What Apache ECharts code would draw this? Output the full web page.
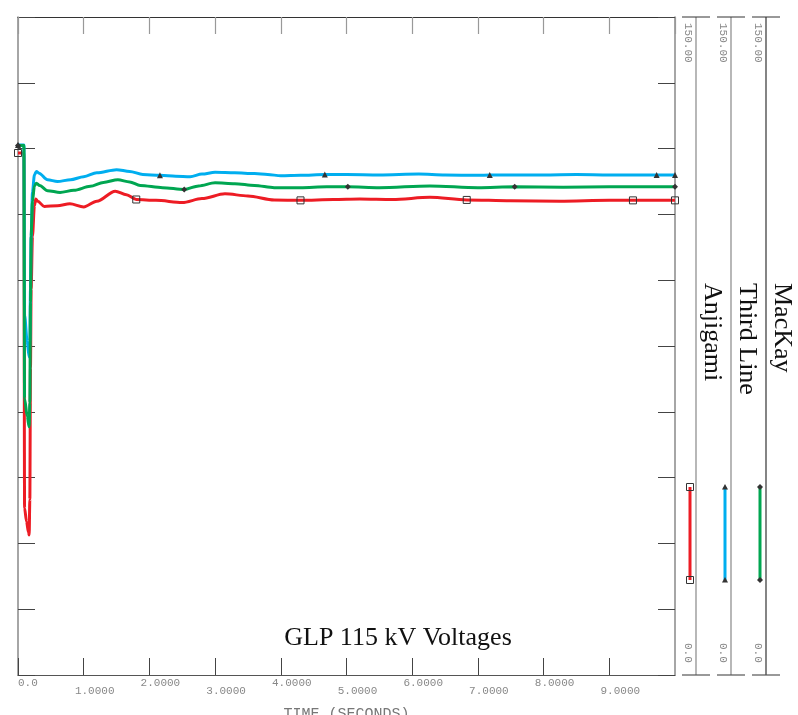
<!DOCTYPE html>
<html>
<head>
<meta charset="utf-8">
<script src="https://cdn.jsdelivr.net/npm/echarts@6/dist/echarts.min.js"></script>
<style>
  html, body { margin: 0; padding: 0; background: #fff; }
  #chart { width: 798px; height: 715px; }
</style>
</head>
<body>
<div id="chart"></div>
<script>
// time (s) / voltage (kV)
var tRed = [0, 0.09, 0.1, 0.13, 0.16, 0.17, 0.18, 0.19, 0.2, 0.22, 0.25, 0.27, 0.3, 0.4, 0.6, 0.79, 1.0, 1.2, 1.48, 1.65,
  1.8, 2.1, 2.5, 2.8, 3.15, 3.5, 3.9, 4.3, 4.8, 5.2, 5.7, 6.27, 6.83, 7.5, 8.25, 9.0, 9.36, 10]
var vRed = [119.0, 119.0, 38, 35, 32.5, 31.9, 40, 70, 88, 100, 107, 108.5, 108.0, 106.8, 107.0, 107.4, 106.7, 108.0, 110.3, 109.5,
  108.4, 108.2, 107.7, 108.6, 109.7, 109.2, 108.3, 108.2, 108.4, 108.5, 108.4, 108.9, 108.3, 108.1, 108.0, 108.2, 108.2, 108.2]
var redMarks = [0, 1.8, 4.3, 6.83, 9.36, 10]

var tBlue = [0, 0.09, 0.1, 0.14, 0.17, 0.18, 0.19, 0.2, 0.22, 0.25, 0.28, 0.32, 0.45, 0.6, 0.8, 1.0, 1.2, 1.5, 1.7, 1.9,
  2.16, 2.4, 2.62, 2.8, 3.0, 3.3, 3.6, 3.8, 4.0, 4.3, 4.67, 5.0, 5.5, 6.1, 6.5, 7.0, 7.18, 8.0, 8.5, 9.0, 9.72, 10]
var vBlue = [120.8, 120.8, 82, 76, 72.5, 76, 88, 100, 110, 114, 114.8, 114.4, 112.9, 112.5, 112.9, 113.6, 114.5, 115.2, 114.8, 114.1,
  113.9, 113.7, 113.6, 114.2, 114.6, 114.5, 114.3, 114.1, 113.8, 113.9, 114.1, 114.1, 114.0, 114.2, 114.0, 113.9, 114.0, 114.0, 114.1, 114.0, 114.0, 114.0]
var blueMarks = [0, 2.16, 4.67, 7.18, 9.72, 10]

var tGreen = [0, 0.09, 0.1, 0.14, 0.17, 0.18, 0.19, 0.2, 0.22, 0.25, 0.28, 0.33, 0.45, 0.64, 0.85, 1.1, 1.3, 1.52, 1.7, 1.86,
  2.2, 2.53, 2.75, 3.0, 3.3, 3.6, 3.9, 4.3, 4.7, 5.02, 5.5, 6.27, 7.0, 7.56, 8.3, 9.0, 10]
var vGreen = [120.7, 120.7, 63, 59, 56.6, 62, 85, 100, 108, 111.5, 112.1, 111.6, 110.4, 110.0, 110.5, 111.4, 112.3, 112.9, 112.4, 111.6,
  111.1, 110.7, 111.5, 112.2, 112.0, 111.6, 111.1, 111.1, 111.3, 111.3, 111.1, 111.5, 111.1, 111.3, 111.2, 111.3, 111.3]
var greenMarks = [0, 2.53, 5.02, 7.56, 10]

var xLabels = ['0.0', '1.0000', '2.0000', '3.0000', '4.0000', '5.0000', '6.0000', '7.0000', '8.0000', '9.0000', '10.000']
var names = ['Anjigami', 'Third Line', 'MacKay']
var colors = ['#ed1c24', '#00aeef', '#00a651']

var mono = 'Liberation Mono'
var serif = 'Liberation Serif'

function buildData (times, vals, marks) {
  return times.map(function (t, i) {
    var item = { value: [t, vals[i]] }
    if (marks.indexOf(t) < 0) item.symbol = 'none'
    return item
  })
}

// side lanes (one per channel) + legend, drawn as decoration
var laneX = [696, 731, 766]
var laneCol = ['#888', '#888', '#333']
var legSym = ['rect', 'triangle', 'diamond']
var graphics = []
laneX.forEach(function (lx, i) {
  graphics.push({ type: 'line', shape: { x1: lx, y1: 17, x2: lx, y2: 675 }, style: { stroke: laneCol[i], lineWidth: 1.2 } })
  graphics.push({ type: 'line', shape: { x1: lx - 14, y1: 17, x2: lx + 14, y2: 17 }, style: { stroke: '#333', lineWidth: 1 } })
  graphics.push({ type: 'line', shape: { x1: lx - 14, y1: 675, x2: lx + 14, y2: 675 }, style: { stroke: '#555', lineWidth: 1.2 } })
  graphics.push({ type: 'text', x: lx - 8, y: 23, rotation: -Math.PI / 2,
    style: { text: '150.00', font: '11px ' + mono, fill: '#888', align: 'left', verticalAlign: 'middle' } })
  graphics.push({ type: 'text', x: lx - 8, y: 643, rotation: -Math.PI / 2,
    style: { text: '0.0', font: '11px ' + mono, fill: '#888', align: 'left', verticalAlign: 'middle' } })
  graphics.push({ type: 'text', x: lx + 16, y: 283, rotation: -Math.PI / 2,
    style: { text: names[i], font: '26px ' + serif, fill: '#111', align: 'left', verticalAlign: 'middle' } })
  var sx = lx - 6
  graphics.push({ type: 'line', shape: { x1: sx, y1: 487, x2: sx, y2: 580 }, style: { stroke: colors[i], lineWidth: 3 } })
  ;[487, 580].forEach(function (sy) {
    if (legSym[i] === 'rect') {
      graphics.push({ type: 'rect', shape: { x: sx - 3.5, y: sy - 3.5, width: 7, height: 7 }, style: { fill: 'none', stroke: '#333', lineWidth: 1 } })
    } else if (legSym[i] === 'triangle') {
      graphics.push({ type: 'polygon', shape: { points: [[sx, sy - 3], [sx - 3, sy + 2.5], [sx + 3, sy + 2.5]] }, style: { fill: '#333' } })
    } else {
      graphics.push({ type: 'polygon', shape: { points: [[sx, sy - 3], [sx + 3, sy], [sx, sy + 3], [sx - 3, sy]] }, style: { fill: '#333' } })
    }
  })
})

var myChart = echarts.init(document.getElementById('chart'), null, { renderer: 'canvas' })
var tickStyle = { show: true, inside: true, length: 17, lineStyle: { color: '#444', width: 1 } }

var option = {
  animation: false,
  backgroundColor: '#fff',
  title: {
    text: 'GLP 115 kV Voltages',
    left: 393,
    top: 620,
    textAlign: 'center',
    textStyle: { fontFamily: serif, fontSize: 26, fontWeight: 'normal', color: '#111' }
  },
  grid: { left: 18, right: 123, top: 17, bottom: 40, containLabel: false, outerBoundsMode: 'none' },
  xAxis: [{
    type: 'value',
    position: 'bottom',
    min: 0,
    max: 10,
    interval: 1,
    axisLine: { show: true, onZero: false, lineStyle: { color: '#555', width: 1.2 } },
    axisTick: tickStyle,
    splitLine: { show: false },
    name: 'TIME (SECONDS)',
    nameLocation: 'middle',
    nameGap: 32,
    nameTextStyle: { fontFamily: mono, fontSize: 15, color: '#777' },
    axisLabel: {
      margin: 2,
      alignMinLabel: 'left',
      alignMaxLabel: 'right',
      formatter: function (v) {
        var i = Math.round(v)
        var s = xLabels[i]
        if (i === 0 || i === 10) return '{z|' + s + '}'
        return (i % 2 === 1 ? '{o|' : '{e|') + s + '}'
      },
      rich: {
        z: { fontFamily: mono, fontSize: 11, color: '#888', lineHeight: 12 },
        e: { fontFamily: mono, fontSize: 11, color: '#888', lineHeight: 12, padding: [0, 0, 0, 22] },
        o: { fontFamily: mono, fontSize: 11, color: '#888', lineHeight: 12, padding: [17, 0, 0, 22] }
      }
    }
  }, {
    type: 'value',
    position: 'top',
    min: 0,
    max: 10,
    interval: 1,
    axisLine: { show: true, onZero: false, lineStyle: { color: '#333', width: 1.2 } },
    axisTick: { show: true, inside: true, length: 17, lineStyle: { color: '#999', width: 1.2 } },
    axisLabel: { show: false },
    splitLine: { show: false }
  }],
  yAxis: [{
    type: 'value',
    position: 'left',
    min: 0,
    max: 150,
    interval: 15,
    axisLine: { show: true, onZero: false, lineStyle: { color: '#888', width: 1.5 } },
    axisTick: tickStyle,
    axisLabel: { show: false },
    splitLine: { show: false }
  }, {
    type: 'value',
    position: 'right',
    min: 0,
    max: 150,
    interval: 15,
    axisLine: { show: true, onZero: false, lineStyle: { color: '#888', width: 1.5 } },
    axisTick: tickStyle,
    axisLabel: { show: false },
    splitLine: { show: false }
  }],
  graphic: graphics,
  series: [{
    name: names[0],
    type: 'line',
    data: buildData(tRed, vRed, redMarks),
    symbol: 'rect',
    symbolSize: 7,
    showAllSymbol: true,
    smooth: 0.3,
    smoothMonotone: 'x',
    lineStyle: { color: colors[0], width: 3 },
    itemStyle: { color: 'rgba(0,0,0,0)', borderColor: '#333', borderWidth: 1 },
    emphasis: { disabled: true }
  }, {
    name: names[1],
    type: 'line',
    data: buildData(tBlue, vBlue, blueMarks),
    symbol: 'triangle',
    symbolSize: 6,
    showAllSymbol: true,
    smooth: 0.3,
    smoothMonotone: 'x',
    lineStyle: { color: colors[1], width: 3 },
    itemStyle: { color: '#333' },
    emphasis: { disabled: true }
  }, {
    name: names[2],
    type: 'line',
    data: buildData(tGreen, vGreen, greenMarks),
    symbol: 'diamond',
    symbolSize: 6,
    showAllSymbol: true,
    smooth: 0.3,
    smoothMonotone: 'x',
    lineStyle: { color: colors[2], width: 3 },
    itemStyle: { color: '#333' },
    emphasis: { disabled: true }
  }]
}
myChart.setOption(option)
</script>
</body>
</html>
